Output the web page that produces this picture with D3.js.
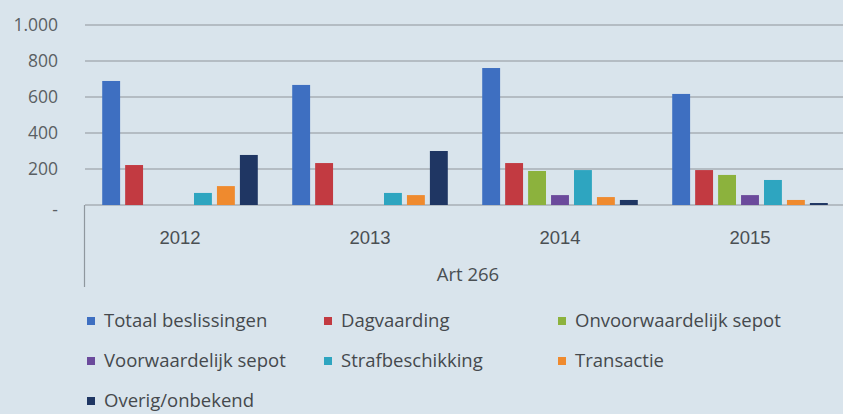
<!DOCTYPE html>
<html>
<head>
<meta charset="utf-8">
<script src="https://cdn.jsdelivr.net/npm/d3@7"></script>
<style>
  body { margin: 0; background: #d9e4ec; }
  svg { display: block; font-family: "Open Sans", sans-serif; }
</style>
</head>
<body>
<div id="chart"></div>
<script>
// data
let years = ["2012", "2013", "2014", "2015"];
let seriesNames = ["Totaal beslissingen", "Dagvaarding", "Onvoorwaardelijk sepot",
                   "Voorwaardelijk sepot", "Strafbeschikking", "Transactie", "Overig/onbekend"];
let totaal = [689, 667, 761, 617];
let dagvaarding = [222, 233, 233, 194];
let onvoorwaardelijk = [0, 0, 189, 167];
let voorwaardelijk = [0, 0, 55, 55];
let strafbeschikking = [67, 67, 194, 139];
let transactie = [105, 55, 44, 28];
let overig = [278, 300, 28, 11];
let yTicks = [0, 200, 400, 600, 800, 1000];
let groupLabel = "Art 266";

let seriesValues = [totaal, dagvaarding, onvoorwaardelijk, voorwaardelijk, strafbeschikking, transactie, overig];
let colors = ["#3e6fc1", "#c23a41", "#8cb23d", "#6b4a9c", "#2ea5c0", "#ef8a2e", "#1f3663"];

let width = 843, height = 414;
let plotLeft = 85;

let svg = d3.select("#chart").append("svg")
    .attr("width", width)
    .attr("height", height);

let x = d3.scaleBand()
    .domain(years)
    .range([plotLeft, plotLeft + 190 * 4]);

let xInner = d3.scaleBand()
    .domain(d3.range(seriesNames.length))
    .range([0, x.bandwidth()])
    .paddingInner(0.22)
    .paddingOuter(0.75);

let y = d3.scaleLinear()
    .domain([0, 1000])
    .range([205, 25]);

// gridlines
svg.append("g")
    .selectAll("line")
    .data(yTicks)
    .enter()
    .append("line")
        .attr("x1", plotLeft)
        .attr("x2", width)
        .attr("y1", d => y(d))
        .attr("y2", d => y(d))
        .attr("stroke", "#a7afb6")
        .attr("stroke-width", 1.3);

// y axis labels
let yAxis = svg.append("g")
    .attr("transform", "translate(" + 58 + ",0)")
    .call(d3.axisLeft(y).tickValues(yTicks).tickSize(0).tickPadding(0)
        .tickFormat(d => d == 0 ? "-" : d3.format(",")(d).replace(",", ".")));
yAxis.select(".domain").remove();
yAxis.selectAll("text")
    .attr("fill", "#5a5f63")
    .style("font-family", "'Open Sans', sans-serif")
    .style("font-size", "17.5px");
yAxis.selectAll(".tick")
    .filter(d => d == 0)
    .select("text")
    .attr("dy", "0.6em");

// bars
let rows = [];
years.forEach(function(yr, i) {
    seriesValues.forEach(function(vals, s) {
        rows.push({year: yr, s: s, value: vals[i]});
    });
});

svg.selectAll(".bar")
    .data(rows)
    .enter()
    .append("rect")
        .attr("class", "bar")
        .attr("x", d => x(d.year) + xInner(d.s))
        .attr("y", d => y(d.value))
        .attr("width", xInner.bandwidth())
        .attr("height", d => y(0) - y(d.value))
        .attr("fill", d => colors[d.s]);

// x axis
let xAxis = svg.append("g")
    .attr("transform", "translate(0," + 205 + ")")
    .call(d3.axisBottom(x).tickSize(0).tickPadding(26));
xAxis.select(".domain").remove();
xAxis.selectAll("text")
    .attr("fill", "#4a4f53")
    .style("font-size", "18.5px");

svg.append("line")
    .attr("x1", 84.5).attr("x2", 84.5)
    .attr("y1", 205).attr("y2", 287)
    .attr("stroke", "#8f979e")
    .attr("stroke-width", 1.2);

svg.append("text")
    .attr("x", x.range()[0] + (x.range()[1] - x.range()[0]) / 2 + 3)
    .attr("y", 275)
    .attr("dy", "0.35em")
    .attr("text-anchor", "middle")
    .attr("fill", "#4a4f53")
    .style("font-size", "18.5px")
    .text(groupLabel);

// legend
let legendCols = [87, 324, 558];
let legend = svg.selectAll(".legend")
    .data(seriesNames)
    .enter()
    .append("g")
        .attr("class", "legend")
        .attr("transform", (d, i) => "translate(" + legendCols[i % 3] + "," + (321 + Math.floor(i / 3) * 40) + ")");

legend.append("rect")
    .attr("x", 0).attr("y", -4)
    .attr("width", 8).attr("height", 8)
    .attr("fill", (d, i) => colors[i]);

legend.append("text")
    .attr("x", 17)
    .attr("y", 0)
    .attr("dy", "0.33em")
    .attr("fill", "#45494d")
    .style("font-size", "18.5px")
    .text(d => d);
</script>
</body>
</html>
